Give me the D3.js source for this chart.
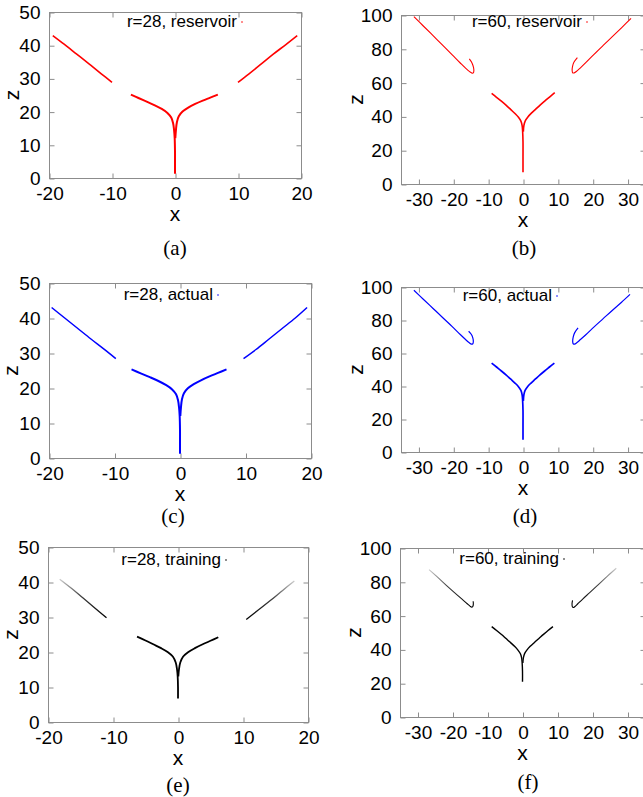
<!DOCTYPE html>
<html>
<head>
<meta charset="utf-8">
<script src="https://cdn.jsdelivr.net/npm/d3@7"></script>
<style>
  body { margin: 0; background: #fff; }
  svg { display: block; }
  .tick text { font-family: "Liberation Sans", Arial, sans-serif; font-size: 19px; fill: #000; }
  .tick line { stroke: #8c8c8c; }
</style>
</head>
<body>
<svg id="chart" width="643" height="797"></svg>
<script>
// ---- data: [x, z] pairs ----

// r = 28, reservoir
const r28ResCenterL = [[-7.0,25.1],[-5.8,24.1],[-4.5,23.0],[-3.2,21.9],[-2.1,20.8],[-1.2,19.6],[-0.6,18.2],[-0.3,16.5],[-0.15,14.5],[-0.05,12],[0,8],[0,4],[0,1.3]];
const r28ResCenterR = [[6.8,25.1],[5.6,24.2],[4.4,23.3],[3.2,22.3],[2.1,21.2],[1.2,20.0],[0.6,18.6],[0.3,16.8],[0.15,14.5],[0.05,12]];
const r28ResOuterL = [[-19.4,42.9],[-17.6,40.3],[-15.6,37.3],[-13.6,34.3],[-11.7,31.4],[-10.0,28.8]];
const r28ResOuterR = [[10.0,28.8],[11.7,31.3],[13.6,34.2],[15.6,37.3],[17.6,40.2],[19.4,42.9]];

// r = 28, actual
const r28ActCenterL = [[-7.4,25.3],[-6.0,24.2],[-4.6,23.1],[-3.3,22.0],[-2.1,20.8],[-1.2,19.6],[-0.6,18.2],[-0.3,16.5],[-0.15,14.5],[-0.05,12],[0,8],[0,4],[0,1.2]];
const r28ActCenterR = [[7.1,25.3],[5.8,24.3],[4.5,23.3],[3.2,22.2],[2.1,21.1],[1.2,19.9],[0.6,18.5],[0.3,16.8],[0.15,14.5],[0.05,12]];
const r28ActOuterL = [[-19.6,43.0],[-17.6,40.0],[-15.6,37.0],[-13.6,34.0],[-11.6,31.1],[-9.8,28.4]];
const r28ActOuterR = [[9.7,28.4],[11.6,31.0],[13.6,34.0],[15.6,37.0],[17.6,40.0],[19.4,43.0]];

// r = 28, training
const r28TrnCenterL = [[-6.3,24.4],[-5.0,23.3],[-3.8,22.2],[-2.6,21.1],[-1.6,20.0],[-0.8,18.7],[-0.35,17],[-0.15,15],[-0.05,13],[0,10],[0,6.7]];
const r28TrnCenterR = [[6.2,24.2],[5.0,23.2],[3.8,22.2],[2.6,21.1],[1.6,20.0],[0.8,18.7],[0.35,17],[0.15,15],[0.05,13]];
const r28TrnOuterL = [[-18.2,40.8],[-16.4,38.2],[-14.6,35.4],[-12.8,32.6],[-11.0,29.8]];
const r28TrnOuterR = [[17.9,40.3],[16.1,37.6],[14.2,34.7],[12.3,31.9],[10.5,29.3]];

// r = 60, reservoir
const r60ResCenterL = [[-9.0,53.6],[-7.6,51.3],[-6.2,49.0],[-4.8,46.5],[-3.5,44.0],[-2.3,41.7],[-1.3,39.5],[-0.6,37.2],[-0.25,34.5],[-0.1,31],[0,25],[0,16],[0,7]];
const r60ResCenterR = [[9.1,54.0],[7.7,51.6],[6.3,49.2],[4.9,46.7],[3.6,44.2],[2.4,41.9],[1.4,39.7],[0.65,37.4],[0.25,34.6],[0.1,31]];
const r60ResOuterL = [[-31.3,99.0],[-28.6,93.5],[-25.8,87.8],[-23.0,82.0],[-20.3,76.4],[-18.0,71.6],[-16.4,68.4],[-15.3,66.5],[-14.6,65.6],[-14.25,65.7],[-14.1,67.0],[-14.2,69.0],[-14.6,71.5],[-15.4,74.0]];
const r60ResOuterR = [[31.0,98.0],[28.4,92.7],[25.7,87.3],[23.0,82.0],[20.3,76.6],[18.0,71.8],[16.4,68.6],[15.3,66.6],[14.6,65.7],[14.25,65.8],[14.1,67.2],[14.2,69.4],[14.6,72.0],[15.6,74.8]];

// r = 60, actual
const r60ActCenterL = [[-9.0,53.9],[-7.6,51.5],[-6.2,49.1],[-4.8,46.6],[-3.5,44.1],[-2.3,41.8],[-1.3,39.6],[-0.6,37.3],[-0.25,34.6],[-0.1,31],[0,25],[0,16],[0,7.4]];
const r60ActCenterR = [[9.0,53.9],[7.6,51.5],[6.2,49.1],[4.8,46.6],[3.5,44.1],[2.3,41.8],[1.3,39.6],[0.6,37.3],[0.25,34.6],[0.1,31]];
const r60ActOuterL = [[-31.3,98.0],[-28.6,92.6],[-25.8,87.0],[-23.0,81.4],[-20.3,76.0],[-18.0,71.2],[-16.4,68.0],[-15.4,66.2],[-14.8,65.4],[-14.4,65.6],[-14.25,67.0],[-14.4,69.2],[-14.8,71.2],[-15.6,73.2]];
const r60ActOuterR = [[30.7,95.5],[28.2,90.6],[25.6,85.8],[23.0,80.8],[20.4,75.8],[18.1,71.2],[16.4,68.0],[15.4,66.2],[14.8,65.4],[14.4,65.6],[14.25,67.2],[14.4,69.6],[14.8,72.2],[15.8,75.2]];

// r = 60, training
const r60TrnCenterL = [[-8.8,53.5],[-7.4,51.2],[-6.0,48.8],[-4.7,46.4],[-3.4,44.0],[-2.2,41.7],[-1.3,39.6],[-0.6,37.4],[-0.25,35],[-0.1,32],[0,27],[0,20.8]];
const r60TrnCenterR = [[8.7,53.5],[7.3,51.2],[6.0,48.9],[4.7,46.5],[3.4,44.1],[2.2,41.8],[1.3,39.7],[0.6,37.5],[0.25,35],[0.1,32]];
const r60TrnOuterL = [[-26.7,87.2],[-24.2,82.6],[-21.6,77.6],[-19.2,73.2],[-17.2,69.6],[-15.8,67.0],[-15.0,65.6],[-14.5,65.0],[-14.2,65.4],[-14.05,66.8],[-14.1,68.5]];
const r60TrnOuterR = [[26.8,88.0],[24.2,83.2],[21.6,78.2],[19.2,73.6],[17.2,69.8],[15.8,67.0],[15.0,65.4],[14.5,64.8],[14.25,65.3],[14.15,67.0],[14.3,69.0]];

// axes
const r28XTicks = [-20, -10, 0, 10, 20];
const r28ZTicks = [0, 10, 20, 30, 40, 50];
const r60XTicks = [-30, -20, -10, 0, 10, 20, 30];
const r60ZTicks = [0, 20, 40, 60, 80, 100];

const titles = ["r=28, reservoir", "r=60, reservoir", "r=28, actual", "r=60, actual", "r=28, training", "r=60, training"];
const captions = ["(a)", "(b)", "(c)", "(d)", "(e)", "(f)"];

// ---- layout ----
const panels = [
  { frame: [49, 301, 12, 178],  xd: [-20, 20], zd: [0, 50],  xt: r28XTicks, zt: r28ZTicks, color: "#ff0000", w: [2.0, 2.0, 1.6, 1.6], fade: false,
    segs: [r28ResCenterL, r28ResCenterR, r28ResOuterL, r28ResOuterR], titleEnd: 237, titleY: 27, cap: [175, 255], zOff: 36 },
  { frame: [401, 645, 15, 184], xd: [-35, 35], zd: [0, 100], xt: r60XTicks, zt: r60ZTicks, color: "#ff0000", w: [1.6, 1.6, 1.1, 1.1], fade: false,
    segs: [r60ResCenterL, r60ResCenterR, r60ResOuterL, r60ResOuterR], titleEnd: 582, titleY: 27, cap: [524, 255], zOff: 44 },
  { frame: [49, 311, 283, 458], xd: [-20, 20], zd: [0, 50],  xt: r28XTicks, zt: r28ZTicks, color: "#0000ff", w: [2.0, 2.0, 1.5, 1.5], fade: false,
    segs: [r28ActCenterL, r28ActCenterR, r28ActOuterL, r28ActOuterR], titleEnd: 213, titleY: 300, cap: [173, 523], zOff: 37 },
  { frame: [401, 645, 287, 452], xd: [-35, 35], zd: [0, 100], xt: r60XTicks, zt: r60ZTicks, color: "#0000ff", w: [1.7, 1.7, 1.2, 1.2], fade: false,
    segs: [r60ActCenterL, r60ActCenterR, r60ActOuterL, r60ActOuterR], titleEnd: 552, titleY: 301, cap: [525, 523], zOff: 44 },
  { frame: [48, 308, 547, 722], xd: [-20, 20], zd: [0, 50],  xt: r28XTicks, zt: r28ZTicks, color: "#000000", w: [1.8, 1.8, 1.3, 1.3], fade: true,
    segs: [r28TrnCenterL, r28TrnCenterR, r28TrnOuterL, r28TrnOuterR], titleEnd: 221, titleY: 565, cap: [178, 792], zOff: 36 },
  { frame: [400, 645, 548, 717], xd: [-35, 35], zd: [0, 100], xt: r60XTicks, zt: r60ZTicks, color: "#000000", w: [1.4, 1.4, 1.1, 1.1], fade: true,
    segs: [r60TrnCenterL, r60TrnCenterR, r60TrnOuterL, r60TrnOuterR], titleEnd: 559, titleY: 564, cap: [528, 789], zOff: 45 }
];

const svg = d3.select("#chart");
svg.append("rect").attr("width", 643).attr("height", 797).attr("fill", "#fff");
const defs = svg.append("defs");

panels.forEach((p, i) => {
  const [left, right, top, bottom] = p.frame;
  const x = d3.scaleLinear().domain(p.xd).range([left, right]);
  const z = d3.scaleLinear().domain(p.zd).range([bottom, top]);
  const g = svg.append("g");

  // frame
  g.append("rect")
    .attr("x", left + 0.5).attr("y", top + 0.5)
    .attr("width", right - left).attr("height", bottom - top)
    .attr("fill", "none").attr("stroke", "#8c8c8c").attr("stroke-width", 1);

  // ticks, inward on all four sides (gnuplot style)
  const fmt = d => String(d);
  const axes = [
    [d3.axisBottom(x).tickValues(p.xt).tickFormat(fmt), bottom, "y"],
    [d3.axisTop(x).tickValues(p.xt).tickFormat(""), top, "y"],
    [d3.axisLeft(z).tickValues(p.zt).tickFormat(fmt), left, "x"],
    [d3.axisRight(z).tickValues(p.zt).tickFormat(""), right, "x"]
  ];
  axes.forEach(([ax, pos, dir]) => {
    const a = g.append("g")
      .attr("transform", dir === "y" ? `translate(0.5,${pos + 0.5})` : `translate(${pos + 0.5},0.5)`)
      .call(ax.tickSizeInner(-5).tickSizeOuter(0).tickPadding(dir === "y" ? 8 : 9));
    a.select(".domain").remove();
  });
  g.selectAll(".tick text").attr("font-family", null).attr("font-size", null);

  // curves
  const line = d3.line().x(d => x(d[0])).y(d => z(d[1])).curve(d3.curveCatmullRom.alpha(0.5));
  p.segs.forEach((seg, k) => {
    let stroke = p.color;
    if (p.fade && k >= 2) {
      // training outer branches fade out toward their far end
      const id = "fade" + i + "_" + k;
      const a = seg[0], b = seg[seg.length - 1];
      const grad = defs.append("linearGradient").attr("id", id)
        .attr("gradientUnits", "userSpaceOnUse")
        .attr("x1", x(a[0])).attr("y1", z(a[1]))
        .attr("x2", x(b[0])).attr("y2", z(b[1]));
      grad.append("stop").attr("offset", 0).attr("stop-color", p.color).attr("stop-opacity", 0.2);
      grad.append("stop").attr("offset", 0.45).attr("stop-color", p.color).attr("stop-opacity", 0.75);
      grad.append("stop").attr("offset", 1).attr("stop-color", p.color).attr("stop-opacity", 1);
      stroke = `url(#${id})`;
    }
    g.append("path")
      .datum(seg)
      .attr("d", line)
      .attr("fill", "none")
      .attr("stroke", stroke)
      .attr("stroke-width", p.w[k])
      .attr("stroke-linejoin", "round");
  });

  // key: label + dot sample
  g.append("text")
    .attr("x", p.titleEnd).attr("y", p.titleY)
    .attr("text-anchor", "end")
    .style("font-family", "Liberation Sans, Arial, sans-serif")
    .style("font-size", "17px")
    .text(titles[i]);
  g.append("circle")
    .attr("cx", p.titleEnd + 5).attr("cy", p.titleY - 5)
    .attr("r", 0.8).attr("fill", p.color);

  // axis titles
  g.append("text")
    .attr("x", x(0)).attr("y", bottom + 43)
    .attr("text-anchor", "middle")
    .style("font-family", "Liberation Sans, Arial, sans-serif")
    .style("font-size", "21px")
    .text("x");
  g.append("text")
    .attr("transform", `translate(${left - p.zOff + 6},${(top + bottom) / 2}) rotate(-90)`)
    .attr("text-anchor", "middle")
    .style("font-family", "Liberation Sans, Arial, sans-serif")
    .style("font-size", "21px")
    .text("z");

  // caption
  g.append("text")
    .attr("x", p.cap[0]).attr("y", p.cap[1])
    .attr("text-anchor", "middle")
    .style("font-family", "Liberation Serif, DejaVu Serif, serif")
    .style("font-size", "21px")
    .text(captions[i]);
});
</script>
</body>
</html>
